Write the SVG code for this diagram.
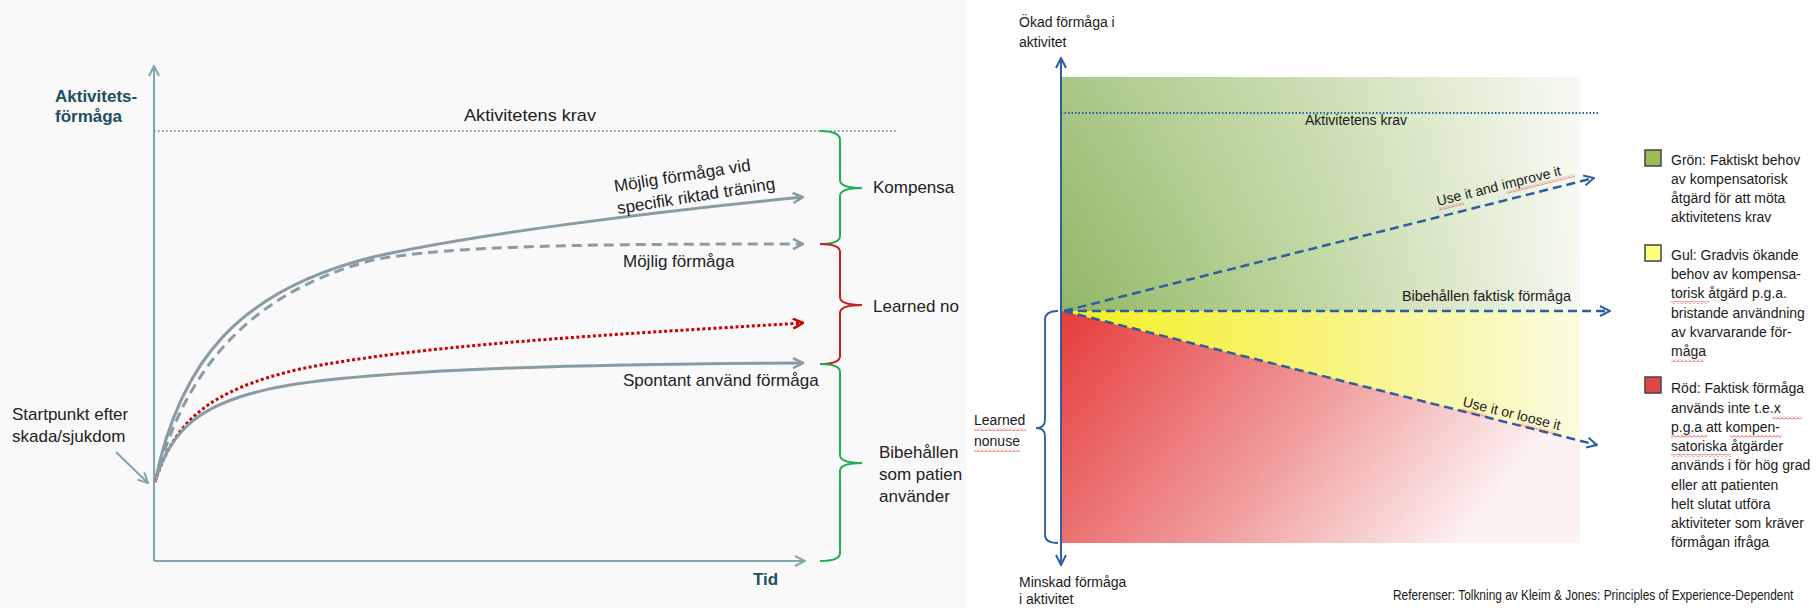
<svg xmlns="http://www.w3.org/2000/svg" width="1816" height="608" viewBox="0 0 1816 608">
<style>
.lt{font-family:"Liberation Sans",Arial,sans-serif;font-size:17px;fill:#222}
.lb{font-family:"Liberation Sans",Arial,sans-serif;font-size:17px;font-weight:bold;fill:#1E4F5E}
.rt{font-family:"Liberation Sans",Arial,sans-serif;font-size:14px;fill:#1a1a1a}
.ax{stroke:#7FA6B1;stroke-width:2;fill:none}
.cv{stroke:#8A9CA3;stroke-width:3;fill:none}
.bg{stroke:#1DB04E;stroke-width:2;fill:none}
.br{stroke:#C81E1E;stroke-width:2;fill:none}
.bl{stroke:#2E5E9E;stroke-width:2.5;fill:none;stroke-dasharray:9 5}
.sq{fill:url(#wave)}
</style>
<defs>
<marker id="ag" viewBox="0 0 12 12" refX="11" refY="6" markerWidth="12" markerHeight="12" markerUnits="userSpaceOnUse" orient="auto"><path d="M1,1 L11,6 L1,11" fill="none" stroke="#8A9CA3" stroke-width="2.5"/></marker>
<marker id="aa" viewBox="0 0 12 12" refX="11" refY="6" markerWidth="12" markerHeight="12" markerUnits="userSpaceOnUse" orient="auto"><path d="M1,1 L11,6 L1,11" fill="none" stroke="#7FA6B1" stroke-width="2"/></marker>
<marker id="ar" viewBox="0 0 12 12" refX="11" refY="6" markerWidth="12" markerHeight="12" markerUnits="userSpaceOnUse" orient="auto"><path d="M1,1 L11,6 L1,11" fill="none" stroke="#CC0000" stroke-width="2.5"/></marker>
<marker id="ab" viewBox="0 0 12 12" refX="11" refY="6" markerWidth="12" markerHeight="12" markerUnits="userSpaceOnUse" orient="auto"><path d="M1,1 L11,6 L1,11" fill="none" stroke="#2E5E9E" stroke-width="2"/></marker>
<linearGradient id="gG" x1="0" y1="0" x2="1" y2="0"><stop offset="0" stop-color="#92B765"/><stop offset="0.5" stop-color="#C0D7A2"/><stop offset="1" stop-color="#F6F9F1"/></linearGradient>
<linearGradient id="gW" x1="0" y1="0" x2="0" y2="1"><stop offset="0" stop-color="#fff" stop-opacity="0.22"/><stop offset="1" stop-color="#fff" stop-opacity="0"/></linearGradient>
<linearGradient id="gY" x1="0" y1="0" x2="1" y2="0"><stop offset="0" stop-color="#F4F01E"/><stop offset="0.5" stop-color="#F7F47A"/><stop offset="1" stop-color="#FCFCE0"/></linearGradient>
<linearGradient id="gR" x1="0" y1="0" x2="1" y2="0.35"><stop offset="0" stop-color="#E63C3C"/><stop offset="0.55" stop-color="#F09A9A"/><stop offset="1" stop-color="#FDF2F2"/></linearGradient>
<pattern id="wave" width="4" height="3" patternUnits="userSpaceOnUse"><path d="M0,2.5 L2,0.5 L4,2.5" stroke="#E02020" stroke-width="0.8" fill="none"/></pattern>
<clipPath id="cl"><rect x="0" y="0" width="967" height="608"/></clipPath>
</defs>

<rect x="0" y="0" width="1816" height="608" fill="#fff"/>
<rect x="0" y="0" width="967" height="608" fill="#F9F9F9"/>

<!-- LEFT PANEL -->
<g id="left-panel" clip-path="url(#cl)">
<g id="axes">
<line class="ax" x1="154" y1="561" x2="154" y2="66" marker-end="url(#aa)"/>
<line class="ax" x1="154" y1="561" x2="805" y2="561" marker-end="url(#aa)"/>
<line x1="154" y1="131" x2="898" y2="131" stroke="#6F9AA8" stroke-width="2" stroke-dasharray="1.5 2.5"/>
</g>
<g id="label-yaxis"><text class="lb" x="55" y="102">Aktivitets-</text><text class="lb" x="55" y="122">förmåga</text></g>
<g id="label-tid"><text class="lb" x="753" y="585">Tid</text></g>
<g id="label-krav"><text class="lt" x="530" y="121" text-anchor="middle" textLength="132" lengthAdjust="spacingAndGlyphs">Aktivitetens krav</text></g>
<g id="label-start"><text class="lt" x="12" y="420">Startpunkt efter</text><text class="lt" x="12" y="442">skada/sjukdom</text></g>
<g id="connectors">
<line class="ax" x1="116" y1="452" x2="148" y2="483" marker-end="url(#aa)"/>
<path class="cv" d="M155,482 C180,360 240,290 373,257 C470,235 650,212 803,197" marker-end="url(#ag)"/>
<path class="cv" d="M155,482 C182,380 240,295 373,260 C450,245 600,244 803,244" stroke-dasharray="10 6" marker-end="url(#ag)"/>
<path d="M155,482 C175,420 210,390 300,369 C420,345 600,335 803,323" fill="none" stroke="#CC0000" stroke-width="3" stroke-dasharray="3 2.5" marker-end="url(#ar)"/>
<path class="cv" d="M155,482 C170,430 200,400 290,385 C400,368 600,364 803,363" marker-end="url(#ag)"/>
</g>
<g id="label-training"><text class="lt" transform="translate(615,192) rotate(-9)">Möjlig förmåga vid</text><text class="lt" transform="translate(618,214) rotate(-9)">specifik riktad träning</text></g>
<g id="label-mojlig"><text class="lt" x="623" y="267">Möjlig förmåga</text></g>
<g id="label-spontant"><text class="lt" x="623" y="386">Spontant använd förmåga</text></g>
<g id="brackets">
<path class="bg" d="M820,131 Q840,131 840,140 L840,180 Q840,188 862,188 Q840,188 840,196 L840,236 Q840,244 820,244"/>
<path class="br" d="M820,244 Q840,244 840,252 L840,297 Q840,305 862,305 Q840,305 840,313 L840,356 Q840,364 820,364"/>
<path class="bg" d="M820,364 Q840,364 840,372 L840,455 Q840,463 862,463 Q840,463 840,471 L840,553 Q840,561 820,561"/>
</g>
<g id="label-komp"><text class="lt" x="873" y="193">Kompensa</text></g>
<g id="label-learned"><text class="lt" x="873" y="312">Learned no</text></g>
<g id="label-bibeh"><text class="lt" x="879" y="458">Bibehållen</text><text class="lt" x="879" y="480">som patien</text><text class="lt" x="879" y="502">använder</text></g>
</g>

<!-- RIGHT PANEL -->
<g id="right-panel">
<g id="zones">
<rect x="1062" y="77" width="518" height="234" fill="url(#gG)"/>
<rect x="1062" y="77" width="518" height="234" fill="url(#gW)"/>
<polygon points="1062,311 1580,311 1580,440" fill="url(#gY)"/>
<polygon points="1062,311 1580,440 1580,543 1062,543" fill="url(#gR)"/>
</g>
<g id="r-axis">
<line x1="1061" y1="312" x2="1061" y2="58" stroke="#2E5E9E" stroke-width="2" marker-end="url(#ab)"/>
<line x1="1061" y1="310" x2="1061" y2="565" stroke="#2E5E9E" stroke-width="2" marker-end="url(#ab)"/>
<line x1="1061" y1="113" x2="1598" y2="113" stroke="#2E5E9E" stroke-width="1.8" stroke-dasharray="1.5 2"/>
</g>
<g id="r-connectors">
<line class="bl" x1="1064" y1="311" x2="1594" y2="178" marker-end="url(#ab)"/>
<line class="bl" x1="1064" y1="311" x2="1610" y2="311" marker-end="url(#ab)"/>
<line class="bl" x1="1064" y1="311" x2="1597" y2="445" marker-end="url(#ab)"/>
</g>
<g id="r-bracket"><path d="M1058,311 Q1045,311 1045,320 L1045,420 Q1045,428 1036,428 Q1045,428 1045,436 L1045,535 Q1045,543 1058,543" fill="none" stroke="#2E5E9E" stroke-width="1.8"/></g>
<g id="r-top"><text class="rt" x="1019" y="27" font-size="14.5">Ökad förmåga i</text><text class="rt" x="1019" y="47" font-size="14.5">aktivitet</text></g>
<g id="r-bottom"><text class="rt" x="1019" y="587" font-size="14.5">Minskad förmåga</text><text class="rt" x="1019" y="604" font-size="14.5">i aktivitet</text></g>
<g id="r-krav"><text class="rt" x="1356" y="125" text-anchor="middle">Aktivitetens krav</text></g>
<g id="r-improve"><g transform="translate(1438,206) rotate(-14)"><text class="rt" x="0" y="0" font-size="15">Use it and improve it</text><rect class="sq" x="0" y="2" width="26" height="3"/><rect class="sq" x="70" y="2" width="70" height="3"/></g></g>
<g id="r-bibeh"><text class="rt" x="1402" y="301" textLength="169" lengthAdjust="spacingAndGlyphs">Bibehållen faktisk förmåga</text></g>
<g id="r-loose"><g transform="translate(1462,406) rotate(14)"><text class="rt" x="0" y="0" font-size="15">Use it or loose it</text><rect class="sq" x="0" y="2" width="26" height="3"/><rect class="sq" x="58" y="2" width="42" height="3"/></g></g>
<g id="r-learned"><text class="rt" x="974" y="425">Learned</text><rect class="sq" x="974" y="428" width="52" height="3"/><text class="rt" x="974" y="446">nonuse</text><rect class="sq" x="974" y="449" width="46" height="3"/></g>
<g id="legend-green"><rect x="1645" y="150" width="16" height="16" fill="#9BBB59" stroke="#444" stroke-width="1.5"/>
<text class="rt" x="1671" y="165">Grön: Faktiskt behov</text><text class="rt" x="1671" y="184">av kompensatorisk</text><text class="rt" x="1671" y="203">åtgärd för att möta</text><text class="rt" x="1671" y="222">aktivitetens krav</text></g>
<g id="legend-yellow"><rect x="1645" y="245" width="16" height="16" fill="#FFFF80" stroke="#444" stroke-width="1.5"/>
<text class="rt" x="1671" y="260">Gul: Gradvis ökande</text><text class="rt" x="1671" y="279">behov av kompensa-</text><text class="rt" x="1671" y="298">torisk åtgärd p.g.a.</text><text class="rt" x="1671" y="318">bristande användning</text><text class="rt" x="1671" y="337">av kvarvarande för-</text><text class="rt" x="1671" y="356">måga</text>
<rect class="sq" x="1671" y="301" width="38" height="3"/><rect class="sq" x="1671" y="359" width="33" height="3"/></g>
<g id="legend-red"><rect x="1645" y="377" width="16" height="16" fill="#E04848" stroke="#444" stroke-width="1.5"/>
<text class="rt" x="1671" y="393">Röd: Faktisk förmåga</text><text class="rt" x="1671" y="413">används inte t.e.x</text><text class="rt" x="1671" y="432">p.g.a att kompen-</text><text class="rt" x="1671" y="451">satoriska åtgärder</text><text class="rt" x="1671" y="470">används i för hög grad</text><text class="rt" x="1671" y="490">eller att patienten</text><text class="rt" x="1671" y="509">helt slutat utföra</text><text class="rt" x="1671" y="528">aktiviteter som kräver</text><text class="rt" x="1671" y="547">förmågan ifråga</text>
<rect class="sq" x="1772" y="416" width="30" height="3"/><rect class="sq" x="1671" y="435" width="36" height="3"/><rect class="sq" x="1730" y="435" width="52" height="3"/><rect class="sq" x="1671" y="454" width="60" height="3"/></g>
<g id="r-ref"><text class="rt" transform="translate(1393,600) scale(0.85,1)" x="0" y="0">Referenser: Tolkning  av Kleim &amp; Jones:  Principles  of Experience-Dependent</text></g>
</g>
</svg>
